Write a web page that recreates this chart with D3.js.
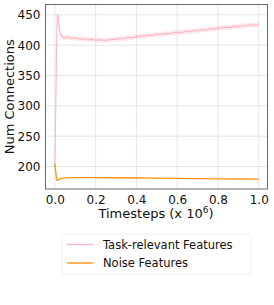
<!DOCTYPE html>
<html>
<head>
<meta charset="utf-8">
<script src="https://cdn.jsdelivr.net/npm/d3@7"></script>
<style>
  body { margin: 0; background: #fff; }
  text { font-family: "DejaVu Sans", sans-serif; fill: #111; }
</style>
</head>
<body>
<div id="chart"></div>
<script>
// Dữ liệu (timesteps tính theo đơn vị 10^6)
const taskSteps = [0, 0.004, 0.008, 0.011, 0.013, 0.016, 0.02, 0.025, 0.03, 0.04, 0.05, 0.06, 0.08, 0.1, 0.12, 0.14, 0.16, 0.18, 0.2, 0.22, 0.24, 0.26, 0.28, 0.3, 0.32, 0.34, 0.36, 0.38, 0.4, 0.42, 0.44, 0.46, 0.48, 0.5, 0.52, 0.54, 0.56, 0.58, 0.6, 0.62, 0.64, 0.66, 0.68, 0.7, 0.72, 0.74, 0.76, 0.78, 0.8, 0.82, 0.84, 0.86, 0.88, 0.9, 0.92, 0.94, 0.96, 0.98, 1.0];
const taskMean = [200, 290, 390, 440, 451, 446, 432, 421, 416, 413, 412, 413.5, 411.5, 412, 410, 410.5, 409, 409.5, 408, 409, 408, 408.5, 409.5, 409.5, 411, 411, 413, 412.5, 414, 415, 415, 416.5, 416, 418, 417.5, 419, 419, 420.5, 421, 421, 422.5, 422, 424, 423.5, 425.5, 425, 427, 426.5, 428, 428.5, 429.5, 429, 431, 430.5, 432, 432, 433.5, 433, 434];
const taskSpread = [2, 3, 4, 4, 4, 4, 4, 4, 4, 4, 4, 4, 4, 4, 4, 4, 4, 4, 4, 4, 4, 4, 4, 4, 4, 4, 4, 4, 4, 4, 4, 4, 4, 4, 4, 4, 4, 4, 4, 4, 4, 4, 4, 4, 4, 4, 4, 4, 4, 4, 4, 4, 4, 4, 4, 4, 4, 4, 4];

const noiseSteps = [0, 0.004, 0.008, 0.011, 0.015, 0.02, 0.03, 0.05, 0.08, 0.1, 0.2, 0.3, 0.4, 0.5, 0.6, 0.7, 0.8, 0.9, 1.0];
const noiseMean = [205, 192, 180, 177, 177.5, 179, 180.5, 181.2, 181.6, 181.8, 181.8, 181.5, 181.1, 180.8, 180.5, 180.1, 179.8, 179.5, 179.2];

const xTicks = [0, 0.2, 0.4, 0.6, 0.8, 1.0];
const yTicks = [200, 250, 300, 350, 400, 450];
const seriesNames = ["Task-relevant Features", "Noise Features"];
const seriesColors = ["#ffb6c1", "#ff9410"];

const W = 274, H = 305;
const margin = { left: 45.5, top: 4.5, right: 6.5, bottom: 116 };
const width = W - margin.left - margin.right;
const height = H - margin.top - margin.bottom;

const svg = d3.select("#chart").append("svg")
    .attr("width", W)
    .attr("height", H);

const g = svg.append("g")
    .attr("transform", `translate(${margin.left},${margin.top})`);

const xScale = d3.scaleLinear().domain([-0.046, 1.043]).range([0, width]);
const yScale = d3.scaleLinear().domain([163, 467]).range([height, 0]);

// Lưới
g.append("g")
    .selectAll("line")
    .data(xTicks)
    .join("line")
    .attr("x1", d => xScale(d)).attr("x2", d => xScale(d))
    .attr("y1", 0).attr("y2", height)
    .attr("stroke", "#dedede").attr("stroke-width", 0.8);

g.append("g")
    .selectAll("line")
    .data(yTicks)
    .join("line")
    .attr("y1", d => yScale(d)).attr("y2", d => yScale(d))
    .attr("x1", 0).attr("x2", width)
    .attr("stroke", "#dedede").attr("stroke-width", 0.8);

// Dải sai số
const taskRows = taskSteps.map((t, i) => ({ t, m: taskMean[i], s: taskSpread[i] }));
const noiseRows = noiseSteps.map((t, i) => ({ t, m: noiseMean[i] }));

g.append("path")
    .datum(taskRows)
    .attr("fill", seriesColors[0])
    .attr("opacity", 0.3)
    .attr("d", d3.area()
        .x(d => xScale(d.t))
        .y0(d => yScale(d.m - d.s))
        .y1(d => yScale(d.m + d.s)));

const line = d3.line().x(d => xScale(d.t)).y(d => yScale(d.m));

g.append("path")
    .datum(taskRows)
    .attr("fill", "none")
    .attr("stroke", seriesColors[0])
    .attr("stroke-width", 1.1)
    .attr("d", line);

g.append("path")
    .datum(noiseRows)
    .attr("fill", "none")
    .attr("stroke", seriesColors[1])
    .attr("stroke-width", 1.3)
    .attr("d", line);

// Trục
const xAxis = g.append("g")
    .attr("transform", `translate(0,${height})`)
    .call(d3.axisBottom(xScale).tickValues(xTicks).tickFormat(d3.format(".1f")).tickSize(0).tickPadding(6));
const yAxis = g.append("g")
    .call(d3.axisLeft(yScale).tickValues(yTicks).tickSize(0).tickPadding(5));

[xAxis, yAxis].forEach(a => {
    a.select(".domain").remove();
    a.selectAll("text").style("font-size", "12px").attr("fill", "#111");
});

// Khung
g.append("rect")
    .attr("width", width).attr("height", height)
    .attr("fill", "none")
    .attr("stroke", "#6a6a6a")
    .attr("stroke-width", 1);

// Nhãn trục
const xLabel = svg.append("text")
    .attr("x", 156)
    .attr("y", 218)
    .attr("text-anchor", "middle")
    .style("font-size", "13px")
    .text("Timesteps (x 10");
xLabel.append("tspan").attr("dy", -5).style("font-size", "9px").text("6");
xLabel.append("tspan").attr("dy", 5).text(")");

svg.append("text")
    .attr("transform", `translate(14,${margin.top + height / 2}) rotate(-90)`)
    .attr("text-anchor", "middle")
    .style("font-size", "13px")
    .text("Num Connections");

// Chú giải
const legend = svg.append("g").attr("transform", "translate(62,234)");
legend.append("rect")
    .attr("width", 189).attr("height", 40)
    .attr("rx", 3)
    .attr("fill", "#fff")
    .attr("stroke", "#eeeeee");

seriesNames.forEach((name, i) => {
    const y = 10.5 + i * 18.5;
    legend.append("line")
        .attr("x1", 5).attr("x2", 31)
        .attr("y1", y).attr("y2", y)
        .attr("stroke", seriesColors[i])
        .attr("stroke-width", 1.4);
    legend.append("text")
        .attr("x", 41).attr("y", y)
        .attr("dy", "0.35em")
        .style("font-size", "11.5px")
        .text(name);
});
</script>
</body>
</html>
